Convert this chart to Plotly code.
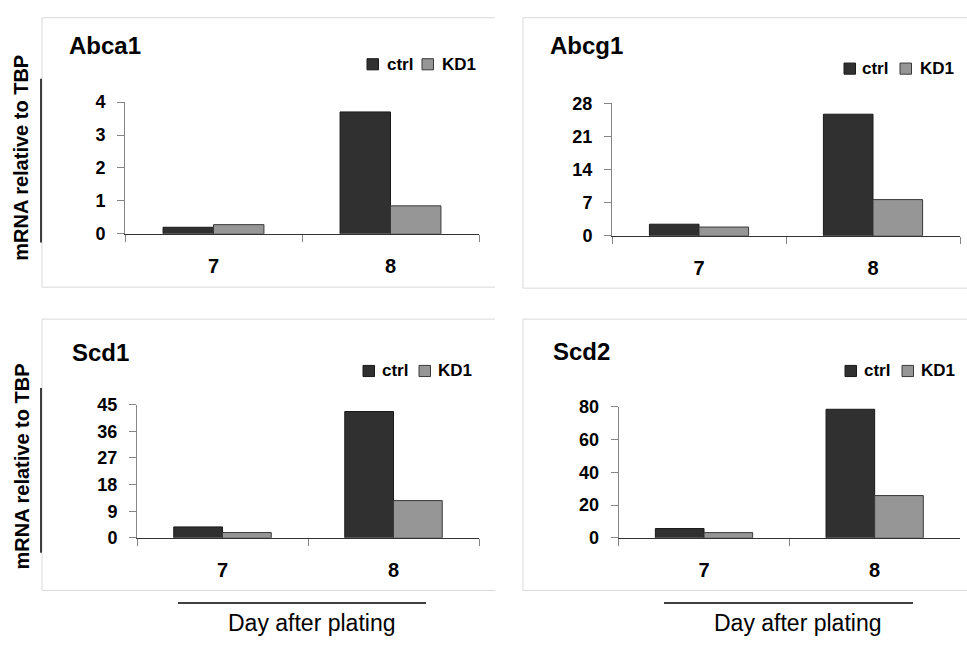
import plotly.graph_objects as go

# ---------------- data ----------------
days = ["7", "8"]
genes = ["Abca1", "Abcg1", "Scd1", "Scd2"]
series_names = ["ctrl", "KD1"]

abca1_ctrl = [0.20, 3.70]
abca1_kd1 = [0.28, 0.85]
abcg1_ctrl = [2.45, 25.7]
abcg1_kd1 = [1.85, 7.65]
scd1_ctrl = [3.7, 42.7]
scd1_kd1 = [1.8, 12.6]
scd2_ctrl = [5.7, 78.4]
scd2_kd1 = [3.2, 25.8]

y_max = [4, 28, 45, 80]
y_dtick = [1, 7, 9, 20]

y_label = "mRNA relative to TBP"
x_label = "Day after plating"

# ---------------- styling ----------------
W, H = 967, 647
FONT = "Arial, Liberation Sans, Helvetica, sans-serif"
CTRL_COLOR = "#303030"
KD1_COLOR = "#969696"
EDGE = "#1a1a1a"
AXIS_GRAY = "#858585"
BORDER = "#d9d9d9"


def px(x):
    return x / W


def py(y):
    return 1 - y / H


# plot area rectangles in pixels: (left, right, top, bottom)
areas = [
    (125, 479, 95, 231),
    (612, 960, 96.3, 233),
    (137, 479, 407.3, 544.7),
    (618.7, 960, 409.3, 544.7),
]
# title positions (left x, center y)
title_pos = [(67, 37), (548, 37), (70, 353), (551, 352)]
# legend positions: (ctrl square left, kd1 square left, center y, ctrl text x, kd1 text x)
legend_pos = [
    (367, 422, 56, 385, 440),
    (844, 900, 60.5, 860, 918),
    (363, 419, 372.5, 380, 436),
    (845, 902, 372.5, 862, 919),
]
# panel frames: (left, right, top, bottom)
frames = [
    (42, 495, 8, 286),
    (523, 975, 8, 287),
    (42, 495, 319, 599),
    (523, 975, 319, 599),
]

ctrl_vals = [abca1_ctrl, abcg1_ctrl, scd1_ctrl, scd2_ctrl]
kd1_vals = [abca1_kd1, abcg1_kd1, scd1_kd1, scd2_kd1]

fig = go.Figure()
layout = dict(
    width=W,
    height=H,
    margin=dict(l=0, r=0, t=0, b=0),
    paper_bgcolor="white",
    plot_bgcolor="white",
    showlegend=False,
    barmode="group",
    bargap=0.43,
    bargroupgap=0,
    font=dict(family=FONT, color="black"),
)

shapes = []
annotations = []

for i in range(4):
    xa = "x" if i == 0 else f"x{i+1}"
    ya = "y" if i == 0 else f"y{i+1}"
    xkey = "xaxis" if i == 0 else f"xaxis{i+1}"
    ykey = "yaxis" if i == 0 else f"yaxis{i+1}"
    l, r, t, b = areas[i]

    fig.add_trace(go.Bar(
        x=days, y=ctrl_vals[i], name=series_names[0], xaxis=xa, yaxis=ya,
        marker=dict(color=CTRL_COLOR, line=dict(color=EDGE, width=1)),
        offsetgroup="ctrl",
    ))
    fig.add_trace(go.Bar(
        x=days, y=kd1_vals[i], name=series_names[1], xaxis=xa, yaxis=ya,
        marker=dict(color=KD1_COLOR, line=dict(color="#3a3a3a", width=1)),
        offsetgroup="kd1",
    ))

    layout[xkey] = dict(
        domain=[px(l), px(r)], anchor=ya, type="category",
        range=[-0.5, 1.5], showline=True, linecolor="#333333", linewidth=1,
        ticks="outside", tickson="boundaries", ticklen=7, tickcolor=AXIS_GRAY,
        tickwidth=1, showgrid=False, zeroline=False, fixedrange=True,
        tickfont=dict(family=FONT, size=20, weight="bold", color="black"),
        ticklabelstandoff=14,
    )
    layout[ykey] = dict(
        domain=[py(b), py(t)], anchor=xa, range=[0, y_max[i]],
        tick0=0, dtick=y_dtick[i], showline=True, linecolor=AXIS_GRAY,
        linewidth=1, ticks="outside", ticklen=7, tickcolor=AXIS_GRAY,
        tickwidth=1, showgrid=False, zeroline=False, fixedrange=True,
        tickfont=dict(family=FONT, size=18, weight="bold", color="black"),
        ticklabelstandoff=8,
    )

    # panel frame (top, bottom, left edges)
    fl, fr, ft, fb = frames[i]
    for (x0, y0, x1, y1) in [(fl, ft, fr, ft), (fl, fb, fr, fb), (fl, ft, fl, fb)]:
        shapes.append(dict(type="line", xref="paper", yref="paper",
                           x0=px(x0), y0=py(y0), x1=px(x1), y1=py(y1),
                           line=dict(color=BORDER, width=1), layer="below"))

    # title
    tx, ty = title_pos[i]
    annotations.append(dict(text=genes[i], xref="paper", yref="paper",
                            x=px(tx), y=py(ty), xanchor="left", yanchor="middle",
                            showarrow=False,
                            font=dict(family=FONT, size=24, weight="bold", color="black")))

    # legend (manual keys)
    cl, kl, cy, ctx, ktx = legend_pos[i]
    for sq, col, lc in [(cl, CTRL_COLOR, EDGE), (kl, KD1_COLOR, "#3a3a3a")]:
        shapes.append(dict(type="rect", xref="paper", yref="paper",
                           x0=px(sq), x1=px(sq + 11.5), y0=py(cy - 5.75), y1=py(cy + 5.75),
                           fillcolor=col, line=dict(color=lc, width=1)))
    for txt, xx in [(series_names[0], ctx), (series_names[1], ktx)]:
        annotations.append(dict(text=txt, xref="paper", yref="paper",
                                x=px(xx), y=py(cy), xanchor="left", yanchor="middle",
                                showarrow=False,
                                font=dict(family=FONT, size=17, weight="bold", color="black")))

# y-axis labels with vertical lines
for cy, (ly0, ly1) in [(153, (71, 240)), (471.5, (390, 560))]:
    annotations.append(dict(text=y_label, xref="paper", yref="paper",
                            x=px(21.5), y=py(cy), xanchor="center", yanchor="middle",
                            textangle=-90, showarrow=False,
                            font=dict(family=FONT, size=20, weight="bold", color="black")))
    shapes.append(dict(type="line", xref="paper", yref="paper",
                       x0=px(41), x1=px(41), y0=py(ly0), y1=py(ly1),
                       line=dict(color="black", width=1.5)))

# x-axis labels with horizontal lines
for cx, (lx0, lx1) in [(311, (178, 426)), (797, (664, 913))]:
    annotations.append(dict(text=x_label, xref="paper", yref="paper",
                            x=px(cx), y=py(633), xanchor="center", yanchor="middle",
                            showarrow=False,
                            font=dict(family=FONT, size=23, color="black")))
    shapes.append(dict(type="line", xref="paper", yref="paper",
                       x0=px(lx0), x1=px(lx1), y0=py(612), y1=py(612),
                       line=dict(color="black", width=1.5)))

layout["shapes"] = shapes
layout["annotations"] = annotations
fig.update_layout(**layout)

fig.write_html(
    "out.html",
    config={"displayModeBar": False, "staticPlot": True},
    post_script="document.body.style.margin='0px';document.body.style.overflow='hidden';",
)
